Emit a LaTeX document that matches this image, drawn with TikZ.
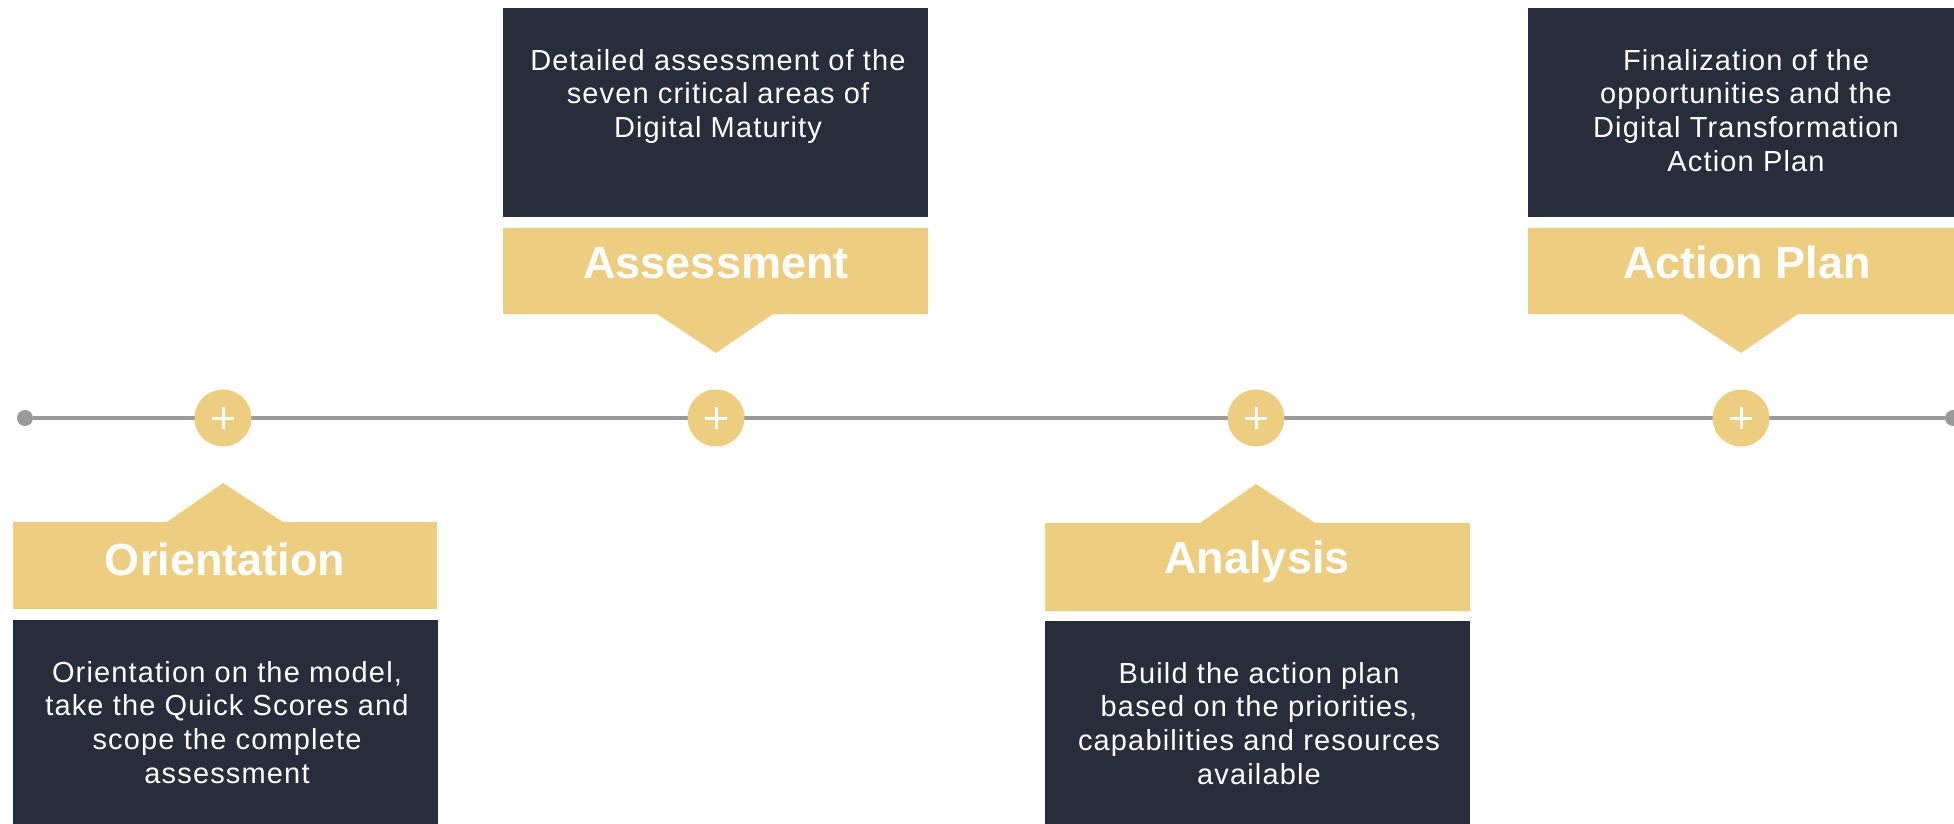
\documentclass[tikz,border=0pt]{standalone}
\usepackage{fontspec}
\setmainfont{Liberation Sans}
\newfontfamily\bodyfont[LetterSpace=4]{Liberation Sans}
\definecolor{gold}{HTML}{EDCD7F}
\definecolor{navy}{HTML}{272D3B}
\definecolor{rail}{HTML}{9A9A9A}
\begin{document}
\begin{tikzpicture}[x=1pt,y=-1pt,
  darkbox/.style={fill=navy,draw=none,anchor=north west,inner sep=0,minimum width=425pt},
  bodytext/.style={text=white,align=center,anchor=north,inner sep=0,font=\bodyfont\fontsize{29}{33.7}\selectfont},
  titletext/.style={text=white,anchor=base,inner sep=0,font=\bfseries\fontsize{45}{54}\selectfont},
  goldfill/.style={fill=gold,draw=none},
  dot/.style={circle,fill=rail,draw=none,minimum size=16pt,inner sep=0},
  milestone/.style={circle,fill=gold,draw=none,minimum size=57pt,inner sep=0},
  plusmark/.style={draw=white,line width=3pt},
  rail line/.style={draw=rail,line width=3.5pt}]
\useasboundingbox (0,0) rectangle (1954,824);
\clip (0,0) rectangle (1954,824);
% timeline
\node[dot] (start) at (25,418) {};
\node[dot] (stop) at (1953,418) {};
\draw[rail line] (start) -- (stop);
\node[milestone] (m1) at (223,418) {};
\node[milestone] (m2) at (716,418) {};
\node[milestone] (m3) at (1256,418) {};
\node[milestone] (m4) at (1741,418) {};
\foreach \m in {m1,m2,m3,m4}{
  \draw[plusmark] (\m.center) ++(-11,0) -- ++(22,0);
  \draw[plusmark] (\m.center) ++(0,-11) -- ++(0,22);
}
% Orientation
\fill[goldfill] (13,522) -- (167,522) -- (223,483) -- (283,522) -- (437,522) -- (437,609) -- (13,609) -- cycle;
\node[titletext] (t1) at (225,575) {Orientation};
\node[darkbox,minimum height=230pt] (b1) at (13,620) {};
\node[bodytext] (d1) at (227,661) {Orientation on the model,\\take the Quick Scores and\\scope the complete\\assessment};
% Assessment
\node[darkbox,minimum height=209pt] (b2) at (503,8) {};
\node[bodytext] (d2) at (718,49) {Detailed assessment of the\\seven critical areas of\\Digital Maturity};
\fill[goldfill] (503,228) -- (928,228) -- (928,314) -- (773,314) -- (716,353) -- (657,314) -- (503,314) -- cycle;
\node[titletext] (t2) at (716,278) {Assessment};
% Analysis
\fill[goldfill] (1045,523) -- (1200,523) -- (1256,484) -- (1315,523) -- (1470,523) -- (1470,611) -- (1045,611) -- cycle;
\node[titletext] (t3) at (1257,573) {Analysis};
\node[darkbox,minimum height=230pt] (b3) at (1045,621) {};
\node[bodytext] (d3) at (1259,662) {Build the action plan\\based on the priorities,\\capabilities and resources\\available};
% Action Plan
\node[darkbox,minimum height=209pt,minimum width=440pt] (b4) at (1528,8) {};
\node[bodytext] (d4) at (1746,49) {Finalization of the\\opportunities and the\\Digital Transformation\\Action Plan};
\fill[goldfill] (1528,228) -- (1970,228) -- (1970,314) -- (1798,314) -- (1741,353) -- (1682,314) -- (1528,314) -- cycle;
\node[titletext] (t4) at (1747,278) {Action Plan};
\end{tikzpicture}
\end{document}
